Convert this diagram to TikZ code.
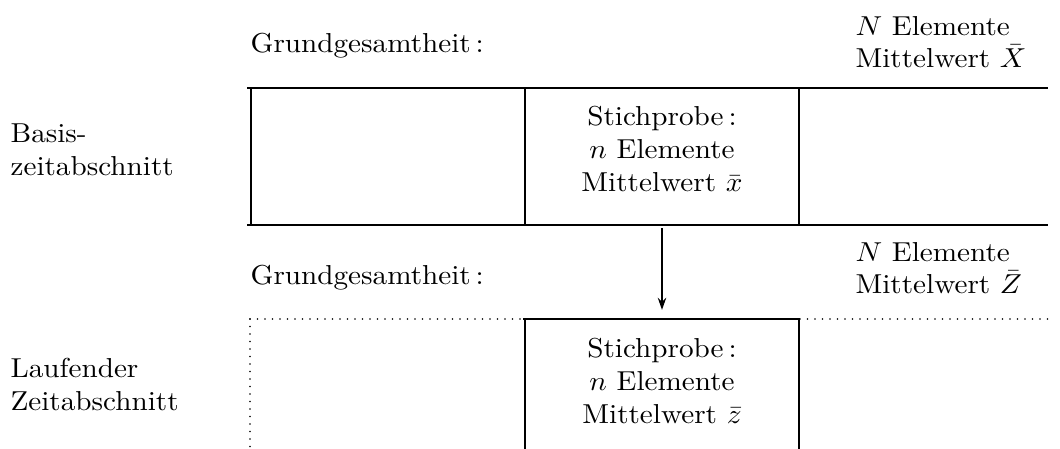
\documentclass[tikz,border=0pt]{standalone}
\usetikzlibrary{arrows.meta}
\begin{document}
\begin{tikzpicture}[x=1bp,y=-1bp,
  solidline/.style={line width=1.5bp},
  dotline/.style={line width=1.6bp, line cap=round, dash pattern=on 0bp off 7.5bp},
  txt/.style={inner sep=0pt, xscale=2.93, yscale=2.75},
  lbl/.style={txt, anchor=base west, font=\fontsize{10}{10.6}\selectfont},
  sidelbl/.style={txt, anchor=base west, font=\fontsize{10}{11.8}\selectfont},
  boxtext/.style={txt, anchor=base, font=\fontsize{10}{11.9}\selectfont},
  region/.style={inner sep=0pt, minimum width=274bp},
  arr/.style={line width=1.2bp, -{Stealth[length=12bp,width=8.5bp]}, shorten <=3bp, shorten >=9bp}]
\useasboundingbox (0,0) rectangle (1060,449);

% upper block
\draw[solidline] (247,88) -- (1048,88);
\draw[solidline] (247,225) -- (1048,225);
\draw[solidline] (251,88) -- (251,225);
\draw[solidline] (525,88) -- (525,225);
\draw[solidline] (799,88) -- (799,225);

% lower block
\draw[dotline] (250,319) -- (523,319);
\draw[solidline] (523,319) -- (800,319);
\draw[dotline] (800,319) -- (1052,319);
\draw[dotline] (250,319) -- (250,449);
\draw[solidline] (525,319) -- (525,449);
\draw[solidline] (799,319) -- (799,449);

% invisible regions of the samples
\node[region, minimum height=137bp] (s1) at (662,156.5) {};
\node[region, minimum height=130bp] (s2) at (662,384) {};

% texts
\node[lbl] (g1) at (250,53) {Grundgesamtheit\,:};
\node[lbl] (n1) at (855,36) {\begin{tabular}[t]{@{}l@{}}$N$ Elemente\\ Mittelwert $\bar{X}$\end{tabular}};
\node[sidelbl] (b1) at (10,143) {\begin{tabular}[t]{@{}l@{}}Basis-\\ zeitabschnitt\end{tabular}};
\node[boxtext] (t1) at (662,126) {\begin{tabular}[t]{@{}c@{}}Stichprobe\,:\\ $n$ Elemente\\ Mittelwert $\bar{x}$\end{tabular}};

\node[lbl] (g2) at (250,285) {Grundgesamtheit\,:};
\node[lbl] (n2) at (855,262) {\begin{tabular}[t]{@{}l@{}}$N$ Elemente\\ Mittelwert $\bar{Z}$\end{tabular}};
\node[sidelbl] (b2) at (10,378) {\begin{tabular}[t]{@{}l@{}}Laufender\\ Zeitabschnitt\end{tabular}};
\node[boxtext] (t2) at (662,358) {\begin{tabular}[t]{@{}c@{}}Stichprobe\,:\\ $n$ Elemente\\ Mittelwert $\bar{z}$\end{tabular}};

\draw[arr] (s1.south) -- (s2.north);
\end{tikzpicture}
\end{document}
